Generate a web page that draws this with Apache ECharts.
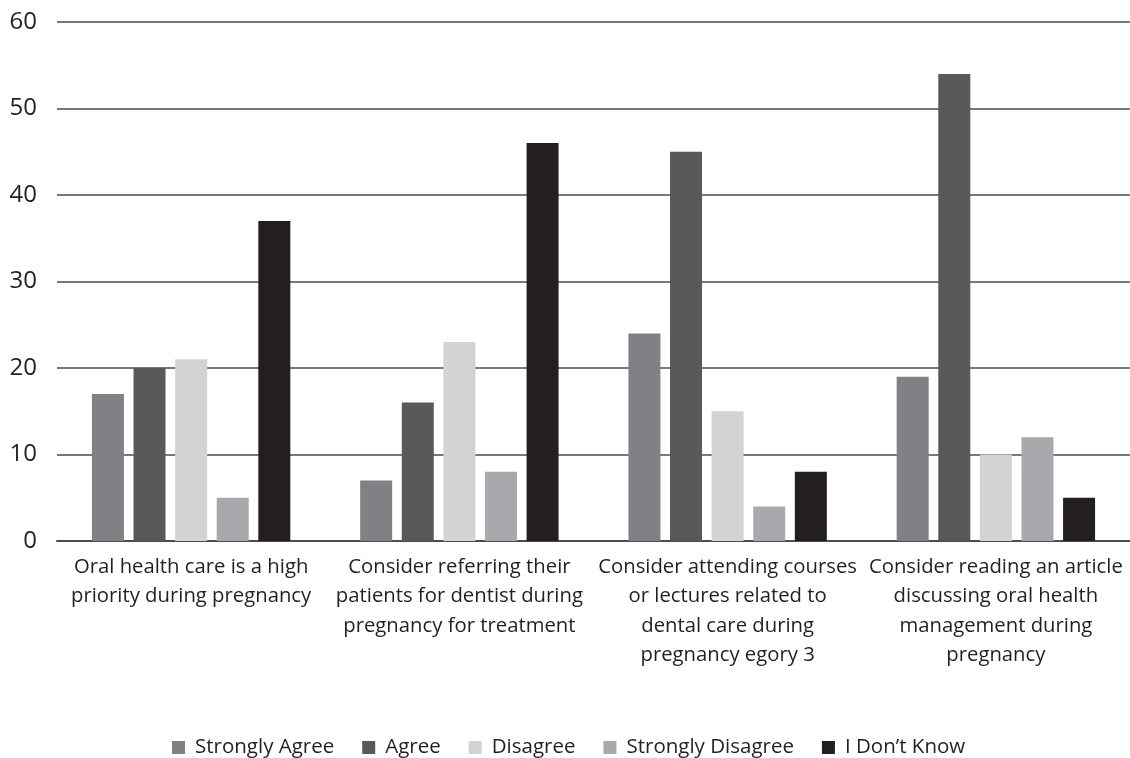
<!DOCTYPE html>
<html>
<head>
<meta charset="utf-8">
<script src="https://cdn.jsdelivr.net/npm/echarts@6/dist/echarts.min.js"></script>
<style>
  html, body { margin: 0; padding: 0; background: #fff; }
  #chart { width: 1130px; height: 758px; }
</style>
</head>
<body>
<div id="chart"></div>
<script>
// categories (x axis), wrapped as in the original
const categories = [
  "Oral health care is a high\npriority during pregnancy",
  "Consider referring their\npatients for dentist during\npregnancy for treatment",
  "Consider attending courses\nor lectures related to\ndental care during\npregnancy egory 3",
  "Consider reading an article\ndiscussing oral health\nmanagement during\npregnancy"
];

const seriesNames = ["Strongly Agree", "Agree", "Disagree", "Strongly Disagree", "I Don\u2019t Know"];
const stronglyAgree = [17, 7, 24, 19];
const agree = [20, 16, 45, 54];
const disagree = [21, 23, 15, 10];
const stronglyDisagree = [5, 8, 4, 12];
const dontKnow = [37, 46, 8, 5];
const colors = ["#808184", "#58595b", "#d1d3d4", "#a7a9ac", "#231f20"];

const chart = echarts.init(document.getElementById("chart"));
const font = "'Open Sans', 'Noto Sans', sans-serif";

const values = [stronglyAgree, agree, disagree, stronglyDisagree, dontKnow];

chart.setOption({
  animation: false,
  color: colors,
  textStyle: { fontFamily: font },
  grid: { left: 57, right: -2, top: 22, bottom: 217 },
  legend: {
    top: 732,
    left: 167,
    itemWidth: 13,
    itemHeight: 13,
    itemGap: 28,
    icon: "rect",
    textStyle: { fontSize: 20.5, color: "#231f20", fontFamily: font, padding: [0, 0, 0, 5] },
    data: seriesNames
  },
  xAxis: {
    type: "category",
    data: categories,
    axisTick: { show: false },
    axisLine: { show: true, lineStyle: { color: "#4d4d4f", width: 2 } },
    axisLabel: {
      interval: 0,
      margin: 11,
      fontSize: 20.3,
      lineHeight: 29.6,
      color: "#231f20",
      fontFamily: font
    }
  },
  yAxis: {
    type: "value",
    min: 0,
    max: 60,
    interval: 10,
    axisLine: { show: false },
    axisTick: { show: false },
    axisLabel: { fontSize: 24, margin: 20, color: "#231f20", fontFamily: font },
    splitLine: { lineStyle: { color: "#4d4d4f", width: 1.5 } }
  },
  series: seriesNames.map((name, i) => ({
    name: name,
    type: "bar",
    data: values[i],
    barWidth: 32,
    barGap: "30%",
    itemStyle: { color: colors[i] }
  }))
});
</script>
</body>
</html>
